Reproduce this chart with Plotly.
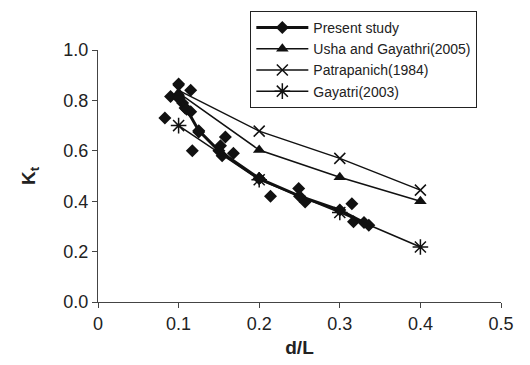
import plotly.graph_objects as go

# Present study: measured points
ps_x = [0.083, 0.09, 0.10, 0.10, 0.105, 0.115, 0.108, 0.115, 0.117, 0.125, 0.152, 0.158, 0.154, 0.168,
        0.20, 0.214, 0.249, 0.257, 0.315, 0.317, 0.336]
ps_y = [0.73, 0.815, 0.865, 0.81, 0.79, 0.84, 0.77, 0.755, 0.60, 0.675, 0.62, 0.655, 0.58, 0.59,
        0.49, 0.42, 0.45, 0.397, 0.39, 0.318, 0.305]
# Present study: trend line
pl_x = [0.10, 0.11, 0.125, 0.15, 0.20, 0.25, 0.30, 0.33]
pl_y = [0.81, 0.765, 0.68, 0.60, 0.49, 0.42, 0.365, 0.315]

usha_x = [0.1, 0.2, 0.3, 0.4]
usha_y = [0.83, 0.603, 0.495, 0.40]

patra_x = [0.1, 0.2, 0.3, 0.4]
patra_y = [0.84, 0.678, 0.57, 0.444]

gaya_x = [0.1, 0.2, 0.3, 0.4]
gaya_y = [0.70, 0.485, 0.355, 0.218]

x_ticks = [0, 0.1, 0.2, 0.3, 0.4, 0.5]
x_labels = ["0", "0.1", "0.2", "0.3", "0.4", "0.5"]
y_ticks = [0.0, 0.2, 0.4, 0.6, 0.8, 1.0]
y_labels = ["0.0", "0.2", "0.4", "0.6", "0.8", "1.0"]

BLK = "#111111"
fig = go.Figure()

fig.add_trace(go.Scatter(x=ps_x, y=ps_y, mode="markers", showlegend=False,
                         marker=dict(symbol="diamond", size=10, color=BLK)))
fig.add_trace(go.Scatter(x=pl_x, y=pl_y, mode="lines+markers", name="Present study",
                         line=dict(color=BLK, width=3),
                         marker=dict(symbol="diamond", size=10, color=BLK)))
fig.add_trace(go.Scatter(x=usha_x, y=usha_y, mode="lines+markers", name="Usha and Gayathri(2005)",
                         line=dict(color=BLK, width=1.5),
                         marker=dict(symbol="triangle-up", size=11, color=BLK)))
fig.add_trace(go.Scatter(x=patra_x, y=patra_y, mode="lines+markers", name="Patrapanich(1984)",
                         line=dict(color=BLK, width=1.5),
                         marker=dict(symbol="x-thin", size=11, color=BLK,
                                     line=dict(color=BLK, width=1.5))))
fig.add_trace(go.Scatter(x=gaya_x, y=gaya_y, mode="lines+markers", name="Gayatri(2003)",
                         line=dict(color=BLK, width=1.5),
                         marker=dict(symbol="asterisk", size=13, color=BLK,
                                     line=dict(color=BLK, width=1.5))))

axis_common = dict(showgrid=False, zeroline=False, showline=True, linecolor="#444444", linewidth=1,
                   ticks="outside", ticklen=5, tickcolor="#444444", automargin=False,
                   tickfont=dict(family="Liberation Sans, Arial", size=18, color="#222222"))

fig.update_xaxes(range=[0, 0.5], tickvals=x_ticks, ticktext=x_labels,
                 title=dict(text="<b>d/L</b>", font=dict(family="Liberation Sans, Arial", size=19, color="#222222"),
                            standoff=8),
                 **axis_common)
fig.update_yaxes(range=[0, 1.0], tickvals=y_ticks, ticktext=y_labels,
                 title=dict(text="<b>K<sub>t</sub></b>", font=dict(family="Liberation Sans, Arial", size=19, color="#222222"),
                            standoff=22),
                 **axis_common)

fig.update_layout(
    width=522, height=357,
    margin=dict(l=89.5, r=29, t=42, b=63.3, autoexpand=False),
    paper_bgcolor="white", plot_bgcolor="white",
    font=dict(family="Liberation Sans, Arial", color="#222222"),
    legend=dict(x=0.378, y=1.155, xanchor="left", yanchor="top",
                bordercolor="#222222", borderwidth=1, bgcolor="white",
                font=dict(size=14, family="Liberation Sans, Arial", color="#222222"),
                itemwidth=52, tracegroupgap=0),
)

fig.write_html("out.html")
